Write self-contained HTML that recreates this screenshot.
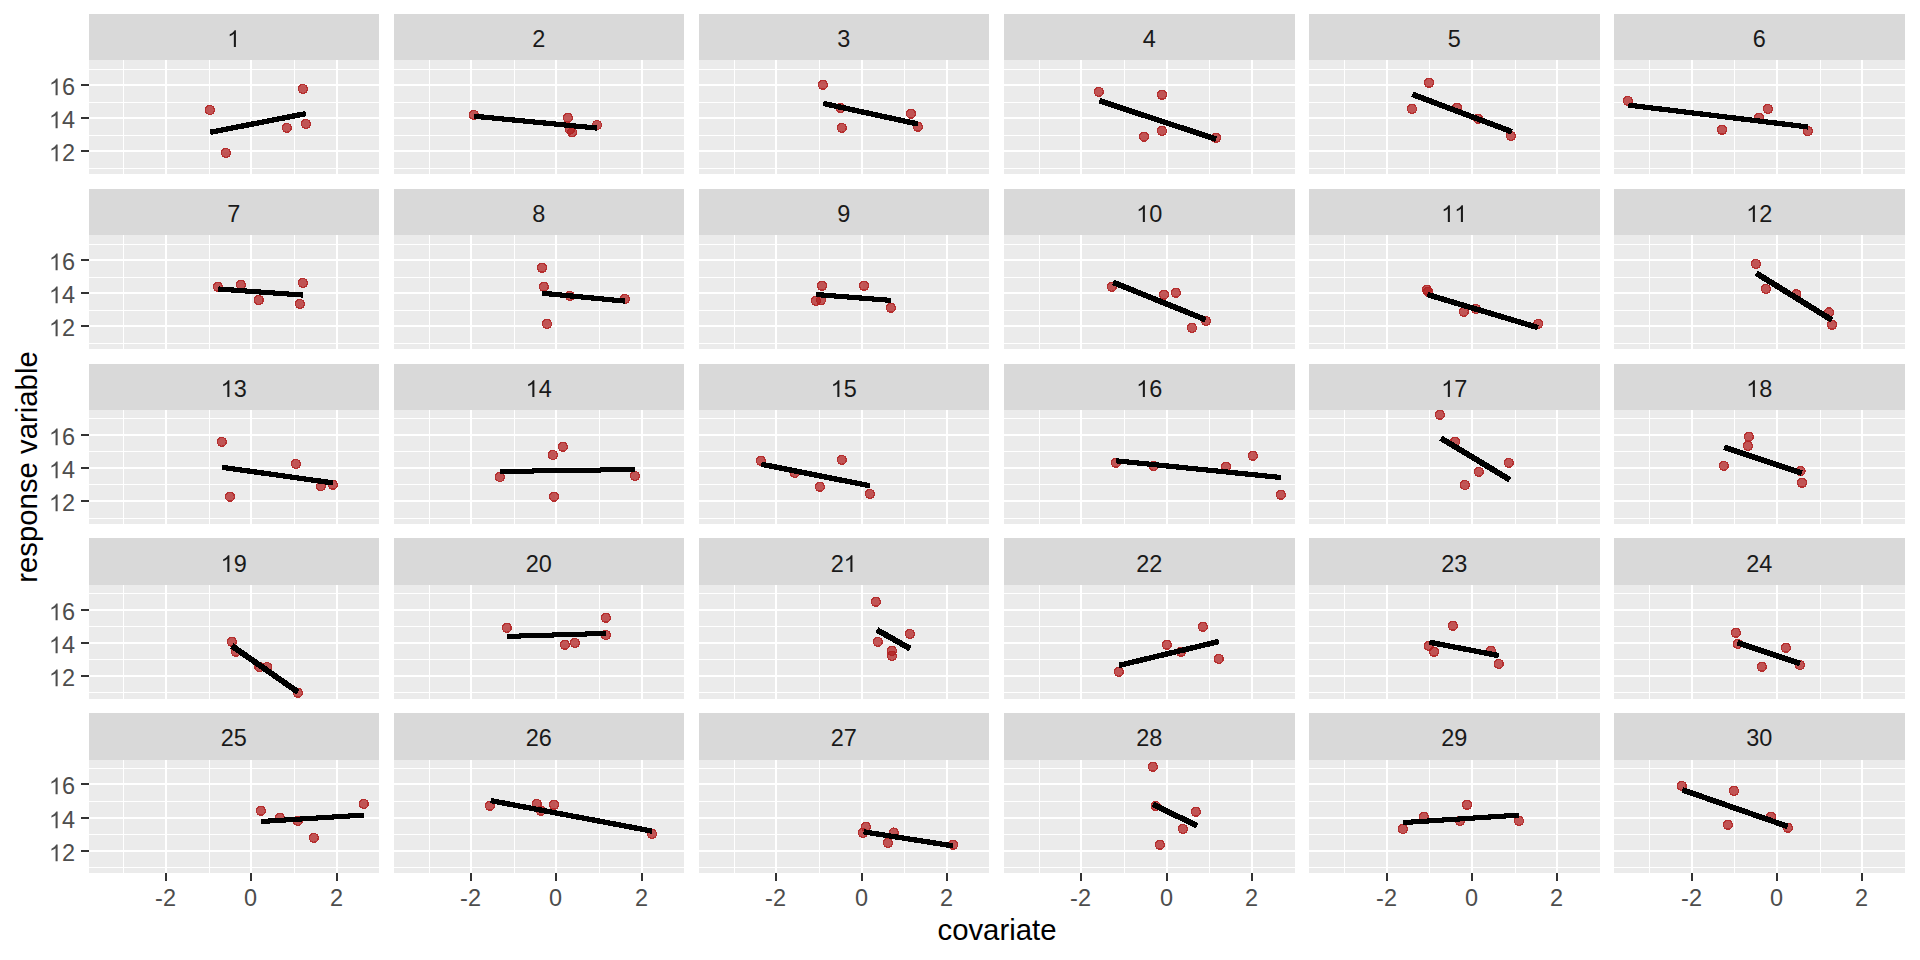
<!DOCTYPE html>
<html><head><meta charset="utf-8"><title>plot</title>
<style>
html,body{margin:0;padding:0;background:#fff;}
body{width:1920px;height:960px;overflow:hidden;font-family:"Liberation Sans",sans-serif;}
svg{display:block;font-family:"Liberation Sans",sans-serif;}
.ax{font-size:23.47px;fill:#4d4d4d;}
.st{font-size:23.47px;fill:#1a1a1a;}
.ti{font-size:29.33px;fill:#000;text-anchor:middle;}
.g{shape-rendering:crispEdges;}
.pf{fill:#b22222;fill-opacity:.75;shape-rendering:crispEdges;}
.ps{fill:none;stroke:#b22222;stroke-opacity:.75;stroke-width:1.4;shape-rendering:crispEdges;}
.ln{fill:none;stroke:#000;stroke-linecap:butt;shape-rendering:crispEdges;}
</style></head><body>
<svg width="1920" height="960" viewBox="0 0 1920 960">
<rect width="1920" height="960" fill="#fff"/>
<g class="g"><rect x="89" y="14" width="290" height="46" fill="#d9d9d9"/><rect x="89" y="60" width="290" height="114" fill="#ebebeb"/><path d="M89 168.5H379M89 135.5H379M89 102.5H379M89 69.5H379M123.5 60V174M209.5 60V174M294.5 60V174" stroke="#fff" stroke-width="1" fill="none"/><path d="M89 151H379M89 118H379M89 85H379M166 60V174M251 60V174M337 60V174" stroke="#fff" stroke-width="2" fill="none"/><path d="M81 151H89M81 118H89M81 85H89" stroke="#333" stroke-width="2" fill="none"/></g>
<path class="st" transform="translate(227.17 47.0) scale(0.01146 -0.01146)" d="M763 0H583V1147Q518 1085 412.5 1023T223 930V1104Q374 1175 487 1276T647 1472H763Z"/>
<path class="ax" transform="translate(48.89 161.3) scale(0.01146 -0.01146)" d="M763 0H583V1147Q518 1085 412.5 1023T223 930V1104Q374 1175 487 1276T647 1472H763Z"/><text class="ax" text-anchor="start" x="61.95" y="161.3">2</text><path class="ax" transform="translate(48.89 128.3) scale(0.01146 -0.01146)" d="M763 0H583V1147Q518 1085 412.5 1023T223 930V1104Q374 1175 487 1276T647 1472H763Z"/><text class="ax" text-anchor="start" x="61.95" y="128.3">4</text><path class="ax" transform="translate(48.89 95.3) scale(0.01146 -0.01146)" d="M763 0H583V1147Q518 1085 412.5 1023T223 930V1104Q374 1175 487 1276T647 1472H763Z"/><text class="ax" text-anchor="start" x="61.95" y="95.3">6</text>
<g class="pf"><circle cx="209.9" cy="110.0" r="5.15"/><circle cx="302.9" cy="88.9" r="5.15"/><circle cx="286.8" cy="127.8" r="5.15"/><circle cx="305.9" cy="123.9" r="5.15"/><circle cx="225.9" cy="152.9" r="5.15"/></g><g class="ps"><circle cx="209.9" cy="110.0" r="4.45"/><circle cx="302.9" cy="88.9" r="4.45"/><circle cx="286.8" cy="127.8" r="4.45"/><circle cx="305.9" cy="123.9" r="4.45"/><circle cx="225.9" cy="152.9" r="4.45"/></g><path class="ln" stroke-width="5.38" d="M210.2 132.3L305.9 113.6"/>
<g class="g"><rect x="394" y="14" width="290" height="46" fill="#d9d9d9"/><rect x="394" y="60" width="290" height="114" fill="#ebebeb"/><path d="M394 168.5H684M394 135.5H684M394 102.5H684M394 69.5H684M429.5 60V174M514.5 60V174M599.5 60V174" stroke="#fff" stroke-width="1" fill="none"/><path d="M394 151H684M394 118H684M394 85H684M471 60V174M556 60V174M642 60V174" stroke="#fff" stroke-width="2" fill="none"/></g>
<text class="st" text-anchor="middle" x="538.7" y="47.0">2</text>
<g class="pf"><circle cx="473.7" cy="114.8" r="5.15"/><circle cx="567.9" cy="117.8" r="5.15"/><circle cx="569.8" cy="129.5" r="5.15"/><circle cx="572.1" cy="132.2" r="5.15"/><circle cx="597.0" cy="125.0" r="5.15"/></g><g class="ps"><circle cx="473.7" cy="114.8" r="4.45"/><circle cx="567.9" cy="117.8" r="4.45"/><circle cx="569.8" cy="129.5" r="4.45"/><circle cx="572.1" cy="132.2" r="4.45"/><circle cx="597.0" cy="125.0" r="4.45"/></g><path class="ln" stroke-width="5.19" d="M474.2 116.2L597.0 128.1"/>
<g class="g"><rect x="699" y="14" width="290" height="46" fill="#d9d9d9"/><rect x="699" y="60" width="290" height="114" fill="#ebebeb"/><path d="M699 168.5H989M699 135.5H989M699 102.5H989M699 69.5H989M734.5 60V174M819.5 60V174M904.5 60V174" stroke="#fff" stroke-width="1" fill="none"/><path d="M699 151H989M699 118H989M699 85H989M776 60V174M862 60V174M947 60V174" stroke="#fff" stroke-width="2" fill="none"/></g>
<text class="st" text-anchor="middle" x="843.7" y="47.0">3</text>
<g class="pf"><circle cx="822.9" cy="84.8" r="5.15"/><circle cx="840.6" cy="107.9" r="5.15"/><circle cx="841.8" cy="127.8" r="5.15"/><circle cx="910.9" cy="113.7" r="5.15"/><circle cx="917.9" cy="126.8" r="5.15"/></g><g class="ps"><circle cx="822.9" cy="84.8" r="4.45"/><circle cx="840.6" cy="107.9" r="4.45"/><circle cx="841.8" cy="127.8" r="4.45"/><circle cx="910.9" cy="113.7" r="4.45"/><circle cx="917.9" cy="126.8" r="4.45"/></g><path class="ln" stroke-width="5.42" d="M823.2 103.4L917.9 124.0"/>
<g class="g"><rect x="1004" y="14" width="291" height="46" fill="#d9d9d9"/><rect x="1004" y="60" width="291" height="114" fill="#ebebeb"/><path d="M1004 168.5H1295M1004 135.5H1295M1004 102.5H1295M1004 69.5H1295M1039.5 60V174M1124.5 60V174M1209.5 60V174" stroke="#fff" stroke-width="1" fill="none"/><path d="M1004 151H1295M1004 118H1295M1004 85H1295M1081 60V174M1167 60V174M1252 60V174" stroke="#fff" stroke-width="2" fill="none"/></g>
<text class="st" text-anchor="middle" x="1149.2" y="47.0">4</text>
<g class="pf"><circle cx="1098.8" cy="91.8" r="5.15"/><circle cx="1162.0" cy="94.8" r="5.15"/><circle cx="1162.0" cy="130.9" r="5.15"/><circle cx="1144.0" cy="136.7" r="5.15"/><circle cx="1216.0" cy="137.8" r="5.15"/></g><g class="ps"><circle cx="1098.8" cy="91.8" r="4.45"/><circle cx="1162.0" cy="94.8" r="4.45"/><circle cx="1162.0" cy="130.9" r="4.45"/><circle cx="1144.0" cy="136.7" r="4.45"/><circle cx="1216.0" cy="137.8" r="4.45"/></g><path class="ln" stroke-width="5.60" d="M1099.3 100.6L1216.0 139.2"/>
<g class="g"><rect x="1309" y="14" width="291" height="46" fill="#d9d9d9"/><rect x="1309" y="60" width="291" height="114" fill="#ebebeb"/><path d="M1309 168.5H1600M1309 135.5H1600M1309 102.5H1600M1309 69.5H1600M1344.5 60V174M1429.5 60V174M1515.5 60V174" stroke="#fff" stroke-width="1" fill="none"/><path d="M1309 151H1600M1309 118H1600M1309 85H1600M1387 60V174M1472 60V174M1557 60V174" stroke="#fff" stroke-width="2" fill="none"/></g>
<text class="st" text-anchor="middle" x="1454.2" y="47.0">5</text>
<g class="pf"><circle cx="1429.0" cy="82.8" r="5.15"/><circle cx="1412.0" cy="108.9" r="5.15"/><circle cx="1457.1" cy="107.6" r="5.15"/><circle cx="1478.1" cy="118.7" r="5.15"/><circle cx="1510.9" cy="135.9" r="5.15"/></g><g class="ps"><circle cx="1429.0" cy="82.8" r="4.45"/><circle cx="1412.0" cy="108.9" r="4.45"/><circle cx="1457.1" cy="107.6" r="4.45"/><circle cx="1478.1" cy="118.7" r="4.45"/><circle cx="1510.9" cy="135.9" r="4.45"/></g><path class="ln" stroke-width="5.66" d="M1412.3 94.3L1512.0 131.8"/>
<g class="g"><rect x="1614" y="14" width="291" height="46" fill="#d9d9d9"/><rect x="1614" y="60" width="291" height="114" fill="#ebebeb"/><path d="M1614 168.5H1905M1614 135.5H1905M1614 102.5H1905M1614 69.5H1905M1649.5 60V174M1734.5 60V174M1820.5 60V174" stroke="#fff" stroke-width="1" fill="none"/><path d="M1614 151H1905M1614 118H1905M1614 85H1905M1692 60V174M1777 60V174M1862 60V174" stroke="#fff" stroke-width="2" fill="none"/></g>
<text class="st" text-anchor="middle" x="1759.2" y="47.0">6</text>
<g class="pf"><circle cx="1627.9" cy="100.9" r="5.15"/><circle cx="1767.9" cy="108.9" r="5.15"/><circle cx="1759.0" cy="117.6" r="5.15"/><circle cx="1722.0" cy="129.8" r="5.15"/><circle cx="1807.9" cy="131.1" r="5.15"/></g><g class="ps"><circle cx="1627.9" cy="100.9" r="4.45"/><circle cx="1767.9" cy="108.9" r="4.45"/><circle cx="1759.0" cy="117.6" r="4.45"/><circle cx="1722.0" cy="129.8" r="4.45"/><circle cx="1807.9" cy="131.1" r="4.45"/></g><path class="ln" stroke-width="5.24" d="M1628.4 105.1L1808.1 127.0"/>
<g class="g"><rect x="89" y="189" width="290" height="46" fill="#d9d9d9"/><rect x="89" y="235" width="290" height="114" fill="#ebebeb"/><path d="M89 343.5H379M89 310.5H379M89 277.5H379M89 244.5H379M123.5 235V349M209.5 235V349M294.5 235V349" stroke="#fff" stroke-width="1" fill="none"/><path d="M89 326H379M89 293H379M89 260H379M166 235V349M251 235V349M337 235V349" stroke="#fff" stroke-width="2" fill="none"/><path d="M81 326H89M81 293H89M81 260H89" stroke="#333" stroke-width="2" fill="none"/></g>
<text class="st" text-anchor="middle" x="233.7" y="222.0">7</text>
<path class="ax" transform="translate(48.89 336.3) scale(0.01146 -0.01146)" d="M763 0H583V1147Q518 1085 412.5 1023T223 930V1104Q374 1175 487 1276T647 1472H763Z"/><text class="ax" text-anchor="start" x="61.95" y="336.3">2</text><path class="ax" transform="translate(48.89 303.3) scale(0.01146 -0.01146)" d="M763 0H583V1147Q518 1085 412.5 1023T223 930V1104Q374 1175 487 1276T647 1472H763Z"/><text class="ax" text-anchor="start" x="61.95" y="303.3">4</text><path class="ax" transform="translate(48.89 270.3) scale(0.01146 -0.01146)" d="M763 0H583V1147Q518 1085 412.5 1023T223 930V1104Q374 1175 487 1276T647 1472H763Z"/><text class="ax" text-anchor="start" x="61.95" y="270.3">6</text>
<g class="pf"><circle cx="217.9" cy="286.8" r="5.15"/><circle cx="240.9" cy="284.8" r="5.15"/><circle cx="302.9" cy="282.9" r="5.15"/><circle cx="258.8" cy="300.0" r="5.15"/><circle cx="299.9" cy="303.9" r="5.15"/></g><g class="ps"><circle cx="217.9" cy="286.8" r="4.45"/><circle cx="240.9" cy="284.8" r="4.45"/><circle cx="302.9" cy="282.9" r="4.45"/><circle cx="258.8" cy="300.0" r="4.45"/><circle cx="299.9" cy="303.9" r="4.45"/></g><path class="ln" stroke-width="5.14" d="M218.4 289.0L302.9 295.1"/>
<g class="g"><rect x="394" y="189" width="290" height="46" fill="#d9d9d9"/><rect x="394" y="235" width="290" height="114" fill="#ebebeb"/><path d="M394 343.5H684M394 310.5H684M394 277.5H684M394 244.5H684M429.5 235V349M514.5 235V349M599.5 235V349" stroke="#fff" stroke-width="1" fill="none"/><path d="M394 326H684M394 293H684M394 260H684M471 235V349M556 235V349M642 235V349" stroke="#fff" stroke-width="2" fill="none"/></g>
<text class="st" text-anchor="middle" x="538.7" y="222.0">8</text>
<g class="pf"><circle cx="542.0" cy="267.8" r="5.15"/><circle cx="543.8" cy="286.7" r="5.15"/><circle cx="569.9" cy="295.9" r="5.15"/><circle cx="624.9" cy="298.9" r="5.15"/><circle cx="547.0" cy="323.9" r="5.15"/></g><g class="ps"><circle cx="542.0" cy="267.8" r="4.45"/><circle cx="543.8" cy="286.7" r="4.45"/><circle cx="569.9" cy="295.9" r="4.45"/><circle cx="624.9" cy="298.9" r="4.45"/><circle cx="547.0" cy="323.9" r="4.45"/></g><path class="ln" stroke-width="5.19" d="M542.0 293.2L624.9 301.1"/>
<g class="g"><rect x="699" y="189" width="290" height="46" fill="#d9d9d9"/><rect x="699" y="235" width="290" height="114" fill="#ebebeb"/><path d="M699 343.5H989M699 310.5H989M699 277.5H989M699 244.5H989M734.5 235V349M819.5 235V349M904.5 235V349" stroke="#fff" stroke-width="1" fill="none"/><path d="M699 326H989M699 293H989M699 260H989M776 235V349M862 235V349M947 235V349" stroke="#fff" stroke-width="2" fill="none"/></g>
<text class="st" text-anchor="middle" x="843.7" y="222.0">9</text>
<g class="pf"><circle cx="822.0" cy="285.8" r="5.15"/><circle cx="864.0" cy="285.8" r="5.15"/><circle cx="815.9" cy="300.9" r="5.15"/><circle cx="821.0" cy="300.1" r="5.15"/><circle cx="890.9" cy="307.8" r="5.15"/></g><g class="ps"><circle cx="822.0" cy="285.8" r="4.45"/><circle cx="864.0" cy="285.8" r="4.45"/><circle cx="815.9" cy="300.9" r="4.45"/><circle cx="821.0" cy="300.1" r="4.45"/><circle cx="890.9" cy="307.8" r="4.45"/></g><path class="ln" stroke-width="5.16" d="M816.0 294.5L890.9 300.4"/>
<g class="g"><rect x="1004" y="189" width="291" height="46" fill="#d9d9d9"/><rect x="1004" y="235" width="291" height="114" fill="#ebebeb"/><path d="M1004 343.5H1295M1004 310.5H1295M1004 277.5H1295M1004 244.5H1295M1039.5 235V349M1124.5 235V349M1209.5 235V349" stroke="#fff" stroke-width="1" fill="none"/><path d="M1004 326H1295M1004 293H1295M1004 260H1295M1081 235V349M1167 235V349M1252 235V349" stroke="#fff" stroke-width="2" fill="none"/></g>
<path class="st" transform="translate(1136.15 222.0) scale(0.01146 -0.01146)" d="M763 0H583V1147Q518 1085 412.5 1023T223 930V1104Q374 1175 487 1276T647 1472H763Z"/><text class="st" text-anchor="start" x="1149.20" y="222.0">0</text>
<g class="pf"><circle cx="1111.8" cy="286.8" r="5.15"/><circle cx="1164.0" cy="294.7" r="5.15"/><circle cx="1175.9" cy="292.8" r="5.15"/><circle cx="1192.0" cy="327.9" r="5.15"/><circle cx="1205.9" cy="320.9" r="5.15"/></g><g class="ps"><circle cx="1111.8" cy="286.8" r="4.45"/><circle cx="1164.0" cy="294.7" r="4.45"/><circle cx="1175.9" cy="292.8" r="4.45"/><circle cx="1192.0" cy="327.9" r="4.45"/><circle cx="1205.9" cy="320.9" r="4.45"/></g><path class="ln" stroke-width="5.70" d="M1113.1 282.3L1205.6 319.7"/>
<g class="g"><rect x="1309" y="189" width="291" height="46" fill="#d9d9d9"/><rect x="1309" y="235" width="291" height="114" fill="#ebebeb"/><path d="M1309 343.5H1600M1309 310.5H1600M1309 277.5H1600M1309 244.5H1600M1344.5 235V349M1429.5 235V349M1515.5 235V349" stroke="#fff" stroke-width="1" fill="none"/><path d="M1309 326H1600M1309 293H1600M1309 260H1600M1387 235V349M1472 235V349M1557 235V349" stroke="#fff" stroke-width="2" fill="none"/></g>
<path class="st" transform="translate(1441.15 222.0) scale(0.01146 -0.01146)" d="M763 0H583V1147Q518 1085 412.5 1023T223 930V1104Q374 1175 487 1276T647 1472H763Z"/><path class="st" transform="translate(1454.20 222.0) scale(0.01146 -0.01146)" d="M763 0H583V1147Q518 1085 412.5 1023T223 930V1104Q374 1175 487 1276T647 1472H763Z"/>
<g class="pf"><circle cx="1426.8" cy="289.7" r="5.15"/><circle cx="1428.1" cy="291.7" r="5.15"/><circle cx="1463.8" cy="311.8" r="5.15"/><circle cx="1475.9" cy="308.9" r="5.15"/><circle cx="1538.1" cy="323.9" r="5.15"/></g><g class="ps"><circle cx="1426.8" cy="289.7" r="4.45"/><circle cx="1428.1" cy="291.7" r="4.45"/><circle cx="1463.8" cy="311.8" r="4.45"/><circle cx="1475.9" cy="308.9" r="4.45"/><circle cx="1538.1" cy="323.9" r="4.45"/></g><path class="ln" stroke-width="5.55" d="M1427.4 294.5L1537.9 327.6"/>
<g class="g"><rect x="1614" y="189" width="291" height="46" fill="#d9d9d9"/><rect x="1614" y="235" width="291" height="114" fill="#ebebeb"/><path d="M1614 343.5H1905M1614 310.5H1905M1614 277.5H1905M1614 244.5H1905M1649.5 235V349M1734.5 235V349M1820.5 235V349" stroke="#fff" stroke-width="1" fill="none"/><path d="M1614 326H1905M1614 293H1905M1614 260H1905M1692 235V349M1777 235V349M1862 235V349" stroke="#fff" stroke-width="2" fill="none"/></g>
<path class="st" transform="translate(1746.15 222.0) scale(0.01146 -0.01146)" d="M763 0H583V1147Q518 1085 412.5 1023T223 930V1104Q374 1175 487 1276T647 1472H763Z"/><text class="st" text-anchor="start" x="1759.20" y="222.0">2</text>
<g class="pf"><circle cx="1755.9" cy="263.9" r="5.15"/><circle cx="1765.9" cy="288.9" r="5.15"/><circle cx="1796.3" cy="294.2" r="5.15"/><circle cx="1829.0" cy="312.3" r="5.15"/><circle cx="1832.0" cy="324.8" r="5.15"/></g><g class="ps"><circle cx="1755.9" cy="263.9" r="4.45"/><circle cx="1765.9" cy="288.9" r="4.45"/><circle cx="1796.3" cy="294.2" r="4.45"/><circle cx="1829.0" cy="312.3" r="4.45"/><circle cx="1832.0" cy="324.8" r="4.45"/></g><path class="ln" stroke-width="5.90" d="M1756.3 273.2L1832.0 320.1"/>
<g class="g"><rect x="89" y="364" width="290" height="46" fill="#d9d9d9"/><rect x="89" y="410" width="290" height="114" fill="#ebebeb"/><path d="M89 518.5H379M89 484.5H379M89 451.5H379M89 418.5H379M123.5 410V524M209.5 410V524M294.5 410V524" stroke="#fff" stroke-width="1" fill="none"/><path d="M89 501H379M89 468H379M89 435H379M166 410V524M251 410V524M337 410V524" stroke="#fff" stroke-width="2" fill="none"/><path d="M81 501H89M81 468H89M81 435H89" stroke="#333" stroke-width="2" fill="none"/></g>
<path class="st" transform="translate(220.65 397.0) scale(0.01146 -0.01146)" d="M763 0H583V1147Q518 1085 412.5 1023T223 930V1104Q374 1175 487 1276T647 1472H763Z"/><text class="st" text-anchor="start" x="233.70" y="397.0">3</text>
<path class="ax" transform="translate(48.89 511.3) scale(0.01146 -0.01146)" d="M763 0H583V1147Q518 1085 412.5 1023T223 930V1104Q374 1175 487 1276T647 1472H763Z"/><text class="ax" text-anchor="start" x="61.95" y="511.3">2</text><path class="ax" transform="translate(48.89 478.3) scale(0.01146 -0.01146)" d="M763 0H583V1147Q518 1085 412.5 1023T223 930V1104Q374 1175 487 1276T647 1472H763Z"/><text class="ax" text-anchor="start" x="61.95" y="478.3">4</text><path class="ax" transform="translate(48.89 445.3) scale(0.01146 -0.01146)" d="M763 0H583V1147Q518 1085 412.5 1023T223 930V1104Q374 1175 487 1276T647 1472H763Z"/><text class="ax" text-anchor="start" x="61.95" y="445.3">6</text>
<g class="pf"><circle cx="221.8" cy="441.8" r="5.15"/><circle cx="295.9" cy="463.9" r="5.15"/><circle cx="229.9" cy="496.7" r="5.15"/><circle cx="320.9" cy="486.1" r="5.15"/><circle cx="332.9" cy="484.8" r="5.15"/></g><g class="ps"><circle cx="221.8" cy="441.8" r="4.45"/><circle cx="295.9" cy="463.9" r="4.45"/><circle cx="229.9" cy="496.7" r="4.45"/><circle cx="320.9" cy="486.1" r="4.45"/><circle cx="332.9" cy="484.8" r="4.45"/></g><path class="ln" stroke-width="5.28" d="M222.1 467.3L332.8 482.9"/>
<g class="g"><rect x="394" y="364" width="290" height="46" fill="#d9d9d9"/><rect x="394" y="410" width="290" height="114" fill="#ebebeb"/><path d="M394 518.5H684M394 484.5H684M394 451.5H684M394 418.5H684M429.5 410V524M514.5 410V524M599.5 410V524" stroke="#fff" stroke-width="1" fill="none"/><path d="M394 501H684M394 468H684M394 435H684M471 410V524M556 410V524M642 410V524" stroke="#fff" stroke-width="2" fill="none"/></g>
<path class="st" transform="translate(525.65 397.0) scale(0.01146 -0.01146)" d="M763 0H583V1147Q518 1085 412.5 1023T223 930V1104Q374 1175 487 1276T647 1472H763Z"/><text class="st" text-anchor="start" x="538.70" y="397.0">4</text>
<g class="pf"><circle cx="562.9" cy="446.8" r="5.15"/><circle cx="552.9" cy="455.0" r="5.15"/><circle cx="499.9" cy="477.0" r="5.15"/><circle cx="634.9" cy="475.9" r="5.15"/><circle cx="554.0" cy="496.7" r="5.15"/></g><g class="ps"><circle cx="562.9" cy="446.8" r="4.45"/><circle cx="552.9" cy="455.0" r="4.45"/><circle cx="499.9" cy="477.0" r="4.45"/><circle cx="634.9" cy="475.9" r="4.45"/><circle cx="554.0" cy="496.7" r="4.45"/></g><path class="ln" stroke-width="5.03" d="M500.1 471.5L634.9 469.5"/>
<g class="g"><rect x="699" y="364" width="290" height="46" fill="#d9d9d9"/><rect x="699" y="410" width="290" height="114" fill="#ebebeb"/><path d="M699 518.5H989M699 484.5H989M699 451.5H989M699 418.5H989M734.5 410V524M819.5 410V524M904.5 410V524" stroke="#fff" stroke-width="1" fill="none"/><path d="M699 501H989M699 468H989M699 435H989M776 410V524M862 410V524M947 410V524" stroke="#fff" stroke-width="2" fill="none"/></g>
<path class="st" transform="translate(830.65 397.0) scale(0.01146 -0.01146)" d="M763 0H583V1147Q518 1085 412.5 1023T223 930V1104Q374 1175 487 1276T647 1472H763Z"/><text class="st" text-anchor="start" x="843.70" y="397.0">5</text>
<g class="pf"><circle cx="760.9" cy="460.8" r="5.15"/><circle cx="841.8" cy="459.8" r="5.15"/><circle cx="794.8" cy="472.9" r="5.15"/><circle cx="819.9" cy="486.8" r="5.15"/><circle cx="869.9" cy="493.9" r="5.15"/></g><g class="ps"><circle cx="760.9" cy="460.8" r="4.45"/><circle cx="841.8" cy="459.8" r="4.45"/><circle cx="794.8" cy="472.9" r="4.45"/><circle cx="819.9" cy="486.8" r="4.45"/><circle cx="869.9" cy="493.9" r="4.45"/></g><path class="ln" stroke-width="5.38" d="M761.2 464.2L869.9 485.8"/>
<g class="g"><rect x="1004" y="364" width="291" height="46" fill="#d9d9d9"/><rect x="1004" y="410" width="291" height="114" fill="#ebebeb"/><path d="M1004 518.5H1295M1004 484.5H1295M1004 451.5H1295M1004 418.5H1295M1039.5 410V524M1124.5 410V524M1209.5 410V524" stroke="#fff" stroke-width="1" fill="none"/><path d="M1004 501H1295M1004 468H1295M1004 435H1295M1081 410V524M1167 410V524M1252 410V524" stroke="#fff" stroke-width="2" fill="none"/></g>
<path class="st" transform="translate(1136.15 397.0) scale(0.01146 -0.01146)" d="M763 0H583V1147Q518 1085 412.5 1023T223 930V1104Q374 1175 487 1276T647 1472H763Z"/><text class="st" text-anchor="start" x="1149.20" y="397.0">6</text>
<g class="pf"><circle cx="1115.9" cy="462.8" r="5.15"/><circle cx="1153.7" cy="465.9" r="5.15"/><circle cx="1226.0" cy="466.8" r="5.15"/><circle cx="1252.9" cy="455.8" r="5.15"/><circle cx="1280.9" cy="494.8" r="5.15"/></g><g class="ps"><circle cx="1115.9" cy="462.8" r="4.45"/><circle cx="1153.7" cy="465.9" r="4.45"/><circle cx="1226.0" cy="466.8" r="4.45"/><circle cx="1252.9" cy="455.8" r="4.45"/><circle cx="1280.9" cy="494.8" r="4.45"/></g><path class="ln" stroke-width="5.20" d="M1116.2 460.8L1280.9 477.5"/>
<g class="g"><rect x="1309" y="364" width="291" height="46" fill="#d9d9d9"/><rect x="1309" y="410" width="291" height="114" fill="#ebebeb"/><path d="M1309 518.5H1600M1309 484.5H1600M1309 451.5H1600M1309 418.5H1600M1344.5 410V524M1429.5 410V524M1515.5 410V524" stroke="#fff" stroke-width="1" fill="none"/><path d="M1309 501H1600M1309 468H1600M1309 435H1600M1387 410V524M1472 410V524M1557 410V524" stroke="#fff" stroke-width="2" fill="none"/></g>
<path class="st" transform="translate(1441.15 397.0) scale(0.01146 -0.01146)" d="M763 0H583V1147Q518 1085 412.5 1023T223 930V1104Q374 1175 487 1276T647 1472H763Z"/><text class="st" text-anchor="start" x="1454.20" y="397.0">7</text>
<g class="pf"><circle cx="1439.9" cy="414.8" r="5.15"/><circle cx="1455.1" cy="441.7" r="5.15"/><circle cx="1508.8" cy="462.8" r="5.15"/><circle cx="1478.8" cy="471.8" r="5.15"/><circle cx="1464.9" cy="485.0" r="5.15"/></g><g class="ps"><circle cx="1439.9" cy="414.8" r="4.45"/><circle cx="1455.1" cy="441.7" r="4.45"/><circle cx="1508.8" cy="462.8" r="4.45"/><circle cx="1478.8" cy="471.8" r="4.45"/><circle cx="1464.9" cy="485.0" r="4.45"/></g><path class="ln" stroke-width="5.88" d="M1440.9 438.2L1509.9 479.8"/>
<g class="g"><rect x="1614" y="364" width="291" height="46" fill="#d9d9d9"/><rect x="1614" y="410" width="291" height="114" fill="#ebebeb"/><path d="M1614 518.5H1905M1614 484.5H1905M1614 451.5H1905M1614 418.5H1905M1649.5 410V524M1734.5 410V524M1820.5 410V524" stroke="#fff" stroke-width="1" fill="none"/><path d="M1614 501H1905M1614 468H1905M1614 435H1905M1692 410V524M1777 410V524M1862 410V524" stroke="#fff" stroke-width="2" fill="none"/></g>
<path class="st" transform="translate(1746.15 397.0) scale(0.01146 -0.01146)" d="M763 0H583V1147Q518 1085 412.5 1023T223 930V1104Q374 1175 487 1276T647 1472H763Z"/><text class="st" text-anchor="start" x="1759.20" y="397.0">8</text>
<g class="pf"><circle cx="1748.8" cy="436.7" r="5.15"/><circle cx="1747.9" cy="445.9" r="5.15"/><circle cx="1723.8" cy="465.8" r="5.15"/><circle cx="1800.6" cy="470.9" r="5.15"/><circle cx="1802.0" cy="482.8" r="5.15"/></g><g class="ps"><circle cx="1748.8" cy="436.7" r="4.45"/><circle cx="1747.9" cy="445.9" r="4.45"/><circle cx="1723.8" cy="465.8" r="4.45"/><circle cx="1800.6" cy="470.9" r="4.45"/><circle cx="1802.0" cy="482.8" r="4.45"/></g><path class="ln" stroke-width="5.60" d="M1724.2 447.3L1801.8 473.2"/>
<g class="g"><rect x="89" y="538" width="290" height="47" fill="#d9d9d9"/><rect x="89" y="585" width="290" height="114" fill="#ebebeb"/><path d="M89 692.5H379M89 659.5H379M89 626.5H379M89 593.5H379M123.5 585V699M209.5 585V699M294.5 585V699" stroke="#fff" stroke-width="1" fill="none"/><path d="M89 676H379M89 643H379M89 610H379M166 585V699M251 585V699M337 585V699" stroke="#fff" stroke-width="2" fill="none"/><path d="M81 676H89M81 643H89M81 610H89" stroke="#333" stroke-width="2" fill="none"/></g>
<path class="st" transform="translate(220.65 572.0) scale(0.01146 -0.01146)" d="M763 0H583V1147Q518 1085 412.5 1023T223 930V1104Q374 1175 487 1276T647 1472H763Z"/><text class="st" text-anchor="start" x="233.70" y="572.0">9</text>
<path class="ax" transform="translate(48.89 686.3) scale(0.01146 -0.01146)" d="M763 0H583V1147Q518 1085 412.5 1023T223 930V1104Q374 1175 487 1276T647 1472H763Z"/><text class="ax" text-anchor="start" x="61.95" y="686.3">2</text><path class="ax" transform="translate(48.89 653.3) scale(0.01146 -0.01146)" d="M763 0H583V1147Q518 1085 412.5 1023T223 930V1104Q374 1175 487 1276T647 1472H763Z"/><text class="ax" text-anchor="start" x="61.95" y="653.3">4</text><path class="ax" transform="translate(48.89 620.3) scale(0.01146 -0.01146)" d="M763 0H583V1147Q518 1085 412.5 1023T223 930V1104Q374 1175 487 1276T647 1472H763Z"/><text class="ax" text-anchor="start" x="61.95" y="620.3">6</text>
<g class="pf"><circle cx="231.8" cy="641.7" r="5.15"/><circle cx="235.9" cy="651.8" r="5.15"/><circle cx="259.3" cy="667.0" r="5.15"/><circle cx="267.1" cy="667.0" r="5.15"/><circle cx="297.9" cy="692.8" r="5.15"/></g><g class="ps"><circle cx="231.8" cy="641.7" r="4.45"/><circle cx="235.9" cy="651.8" r="4.45"/><circle cx="259.3" cy="667.0" r="4.45"/><circle cx="267.1" cy="667.0" r="4.45"/><circle cx="297.9" cy="692.8" r="4.45"/></g><path class="ln" stroke-width="5.94" d="M231.8 645.8L297.9 692.0"/>
<g class="g"><rect x="394" y="538" width="290" height="47" fill="#d9d9d9"/><rect x="394" y="585" width="290" height="114" fill="#ebebeb"/><path d="M394 692.5H684M394 659.5H684M394 626.5H684M394 593.5H684M429.5 585V699M514.5 585V699M599.5 585V699" stroke="#fff" stroke-width="1" fill="none"/><path d="M394 676H684M394 643H684M394 610H684M471 585V699M556 585V699M642 585V699" stroke="#fff" stroke-width="2" fill="none"/></g>
<text class="st" text-anchor="middle" x="538.7" y="572.0">20</text>
<g class="pf"><circle cx="506.8" cy="627.8" r="5.15"/><circle cx="605.9" cy="617.8" r="5.15"/><circle cx="605.9" cy="635.0" r="5.15"/><circle cx="564.9" cy="644.8" r="5.15"/><circle cx="574.9" cy="642.9" r="5.15"/></g><g class="ps"><circle cx="506.8" cy="627.8" r="4.45"/><circle cx="605.9" cy="617.8" r="4.45"/><circle cx="605.9" cy="635.0" r="4.45"/><circle cx="564.9" cy="644.8" r="4.45"/><circle cx="574.9" cy="642.9" r="4.45"/></g><path class="ln" stroke-width="5.06" d="M507.1 636.4L605.9 633.4"/>
<g class="g"><rect x="699" y="538" width="290" height="47" fill="#d9d9d9"/><rect x="699" y="585" width="290" height="114" fill="#ebebeb"/><path d="M699 692.5H989M699 659.5H989M699 626.5H989M699 593.5H989M734.5 585V699M819.5 585V699M904.5 585V699" stroke="#fff" stroke-width="1" fill="none"/><path d="M699 676H989M699 643H989M699 610H989M776 585V699M862 585V699M947 585V699" stroke="#fff" stroke-width="2" fill="none"/></g>
<text class="st" text-anchor="start" x="830.65" y="572.0">2</text><path class="st" transform="translate(843.70 572.0) scale(0.01146 -0.01146)" d="M763 0H583V1147Q518 1085 412.5 1023T223 930V1104Q374 1175 487 1276T647 1472H763Z"/>
<g class="pf"><circle cx="875.9" cy="601.8" r="5.15"/><circle cx="909.9" cy="633.9" r="5.15"/><circle cx="877.8" cy="641.8" r="5.15"/><circle cx="892.0" cy="650.9" r="5.15"/><circle cx="892.0" cy="655.9" r="5.15"/></g><g class="ps"><circle cx="875.9" cy="601.8" r="4.45"/><circle cx="909.9" cy="633.9" r="4.45"/><circle cx="877.8" cy="641.8" r="4.45"/><circle cx="892.0" cy="650.9" r="4.45"/><circle cx="892.0" cy="655.9" r="4.45"/></g><path class="ln" stroke-width="5.86" d="M876.8 629.8L910.2 648.7"/>
<g class="g"><rect x="1004" y="538" width="291" height="47" fill="#d9d9d9"/><rect x="1004" y="585" width="291" height="114" fill="#ebebeb"/><path d="M1004 692.5H1295M1004 659.5H1295M1004 626.5H1295M1004 593.5H1295M1039.5 585V699M1124.5 585V699M1209.5 585V699" stroke="#fff" stroke-width="1" fill="none"/><path d="M1004 676H1295M1004 643H1295M1004 610H1295M1081 585V699M1167 585V699M1252 585V699" stroke="#fff" stroke-width="2" fill="none"/></g>
<text class="st" text-anchor="middle" x="1149.2" y="572.0">22</text>
<g class="pf"><circle cx="1202.9" cy="626.8" r="5.15"/><circle cx="1166.8" cy="644.7" r="5.15"/><circle cx="1181.0" cy="651.8" r="5.15"/><circle cx="1218.8" cy="658.9" r="5.15"/><circle cx="1118.8" cy="671.8" r="5.15"/></g><g class="ps"><circle cx="1202.9" cy="626.8" r="4.45"/><circle cx="1166.8" cy="644.7" r="4.45"/><circle cx="1181.0" cy="651.8" r="4.45"/><circle cx="1218.8" cy="658.9" r="4.45"/><circle cx="1118.8" cy="671.8" r="4.45"/></g><path class="ln" stroke-width="5.45" d="M1119.0 665.4L1218.8 641.5"/>
<g class="g"><rect x="1309" y="538" width="291" height="47" fill="#d9d9d9"/><rect x="1309" y="585" width="291" height="114" fill="#ebebeb"/><path d="M1309 692.5H1600M1309 659.5H1600M1309 626.5H1600M1309 593.5H1600M1344.5 585V699M1429.5 585V699M1515.5 585V699" stroke="#fff" stroke-width="1" fill="none"/><path d="M1309 676H1600M1309 643H1600M1309 610H1600M1387 585V699M1472 585V699M1557 585V699" stroke="#fff" stroke-width="2" fill="none"/></g>
<text class="st" text-anchor="middle" x="1454.2" y="572.0">23</text>
<g class="pf"><circle cx="1452.9" cy="625.8" r="5.15"/><circle cx="1428.8" cy="645.9" r="5.15"/><circle cx="1434.0" cy="651.8" r="5.15"/><circle cx="1491.0" cy="650.9" r="5.15"/><circle cx="1498.8" cy="663.9" r="5.15"/></g><g class="ps"><circle cx="1452.9" cy="625.8" r="4.45"/><circle cx="1428.8" cy="645.9" r="4.45"/><circle cx="1434.0" cy="651.8" r="4.45"/><circle cx="1491.0" cy="650.9" r="4.45"/><circle cx="1498.8" cy="663.9" r="4.45"/></g><path class="ln" stroke-width="5.37" d="M1429.2 642.2L1498.8 655.6"/>
<g class="g"><rect x="1614" y="538" width="291" height="47" fill="#d9d9d9"/><rect x="1614" y="585" width="291" height="114" fill="#ebebeb"/><path d="M1614 692.5H1905M1614 659.5H1905M1614 626.5H1905M1614 593.5H1905M1649.5 585V699M1734.5 585V699M1820.5 585V699" stroke="#fff" stroke-width="1" fill="none"/><path d="M1614 676H1905M1614 643H1905M1614 610H1905M1692 585V699M1777 585V699M1862 585V699" stroke="#fff" stroke-width="2" fill="none"/></g>
<text class="st" text-anchor="middle" x="1759.2" y="572.0">24</text>
<g class="pf"><circle cx="1735.9" cy="632.8" r="5.15"/><circle cx="1737.8" cy="643.9" r="5.15"/><circle cx="1785.9" cy="647.8" r="5.15"/><circle cx="1761.8" cy="666.7" r="5.15"/><circle cx="1799.9" cy="665.0" r="5.15"/></g><g class="ps"><circle cx="1735.9" cy="632.8" r="4.45"/><circle cx="1737.8" cy="643.9" r="4.45"/><circle cx="1785.9" cy="647.8" r="4.45"/><circle cx="1761.8" cy="666.7" r="4.45"/><circle cx="1799.9" cy="665.0" r="4.45"/></g><path class="ln" stroke-width="5.60" d="M1737.4 642.6L1799.9 663.4"/>
<g class="g"><rect x="89" y="713" width="290" height="47" fill="#d9d9d9"/><rect x="89" y="760" width="290" height="113" fill="#ebebeb"/><path d="M89 867.5H379M89 834.5H379M89 801.5H379M89 768.5H379M123.5 760V873M209.5 760V873M294.5 760V873" stroke="#fff" stroke-width="1" fill="none"/><path d="M89 851H379M89 818H379M89 784H379M166 760V873M251 760V873M337 760V873" stroke="#fff" stroke-width="2" fill="none"/><path d="M81 851H89M81 818H89M81 784H89M166 873v8M251 873v8M337 873v8" stroke="#333" stroke-width="2" fill="none"/></g>
<text class="st" text-anchor="middle" x="233.7" y="746.0">25</text>
<path class="ax" transform="translate(48.89 861.3) scale(0.01146 -0.01146)" d="M763 0H583V1147Q518 1085 412.5 1023T223 930V1104Q374 1175 487 1276T647 1472H763Z"/><text class="ax" text-anchor="start" x="61.95" y="861.3">2</text><path class="ax" transform="translate(48.89 828.3) scale(0.01146 -0.01146)" d="M763 0H583V1147Q518 1085 412.5 1023T223 930V1104Q374 1175 487 1276T647 1472H763Z"/><text class="ax" text-anchor="start" x="61.95" y="828.3">4</text><path class="ax" transform="translate(48.89 794.3) scale(0.01146 -0.01146)" d="M763 0H583V1147Q518 1085 412.5 1023T223 930V1104Q374 1175 487 1276T647 1472H763Z"/><text class="ax" text-anchor="start" x="61.95" y="794.3">6</text>
<text class="ax" text-anchor="middle" x="165.5" y="906">-2</text><text class="ax" text-anchor="middle" x="250.5" y="906">0</text><text class="ax" text-anchor="middle" x="336.5" y="906">2</text>
<g class="pf"><circle cx="260.9" cy="810.8" r="5.15"/><circle cx="279.9" cy="817.8" r="5.15"/><circle cx="297.8" cy="820.9" r="5.15"/><circle cx="313.8" cy="837.8" r="5.15"/><circle cx="363.8" cy="803.9" r="5.15"/></g><g class="ps"><circle cx="260.9" cy="810.8" r="4.45"/><circle cx="279.9" cy="817.8" r="4.45"/><circle cx="297.8" cy="820.9" r="4.45"/><circle cx="313.8" cy="837.8" r="4.45"/><circle cx="363.8" cy="803.9" r="4.45"/></g><path class="ln" stroke-width="5.12" d="M261.0 821.5L363.8 815.1"/>
<g class="g"><rect x="394" y="713" width="290" height="47" fill="#d9d9d9"/><rect x="394" y="760" width="290" height="113" fill="#ebebeb"/><path d="M394 867.5H684M394 834.5H684M394 801.5H684M394 768.5H684M429.5 760V873M514.5 760V873M599.5 760V873" stroke="#fff" stroke-width="1" fill="none"/><path d="M394 851H684M394 818H684M394 784H684M471 760V873M556 760V873M642 760V873" stroke="#fff" stroke-width="2" fill="none"/><path d="M471 873v8M556 873v8M642 873v8" stroke="#333" stroke-width="2" fill="none"/></g>
<text class="st" text-anchor="middle" x="538.7" y="746.0">26</text>
<text class="ax" text-anchor="middle" x="470.5" y="906">-2</text><text class="ax" text-anchor="middle" x="555.5" y="906">0</text><text class="ax" text-anchor="middle" x="641.5" y="906">2</text>
<g class="pf"><circle cx="489.9" cy="805.8" r="5.15"/><circle cx="536.8" cy="803.9" r="5.15"/><circle cx="540.9" cy="810.8" r="5.15"/><circle cx="554.0" cy="804.8" r="5.15"/><circle cx="652.0" cy="833.9" r="5.15"/></g><g class="ps"><circle cx="489.9" cy="805.8" r="4.45"/><circle cx="536.8" cy="803.9" r="4.45"/><circle cx="540.9" cy="810.8" r="4.45"/><circle cx="554.0" cy="804.8" r="4.45"/><circle cx="652.0" cy="833.9" r="4.45"/></g><path class="ln" stroke-width="5.36" d="M490.6 800.6L652.0 831.1"/>
<g class="g"><rect x="699" y="713" width="290" height="47" fill="#d9d9d9"/><rect x="699" y="760" width="290" height="113" fill="#ebebeb"/><path d="M699 867.5H989M699 834.5H989M699 801.5H989M699 768.5H989M734.5 760V873M819.5 760V873M904.5 760V873" stroke="#fff" stroke-width="1" fill="none"/><path d="M699 851H989M699 818H989M699 784H989M776 760V873M862 760V873M947 760V873" stroke="#fff" stroke-width="2" fill="none"/><path d="M776 873v8M862 873v8M947 873v8" stroke="#333" stroke-width="2" fill="none"/></g>
<text class="st" text-anchor="middle" x="843.7" y="746.0">27</text>
<text class="ax" text-anchor="middle" x="775.5" y="906">-2</text><text class="ax" text-anchor="middle" x="861.5" y="906">0</text><text class="ax" text-anchor="middle" x="946.5" y="906">2</text>
<g class="pf"><circle cx="865.9" cy="826.8" r="5.15"/><circle cx="862.9" cy="832.9" r="5.15"/><circle cx="893.8" cy="832.6" r="5.15"/><circle cx="887.9" cy="842.9" r="5.15"/><circle cx="953.1" cy="844.8" r="5.15"/></g><g class="ps"><circle cx="865.9" cy="826.8" r="4.45"/><circle cx="862.9" cy="832.9" r="4.45"/><circle cx="893.8" cy="832.6" r="4.45"/><circle cx="887.9" cy="842.9" r="4.45"/><circle cx="953.1" cy="844.8" r="4.45"/></g><path class="ln" stroke-width="5.31" d="M863.5 831.8L953.1 845.9"/>
<g class="g"><rect x="1004" y="713" width="291" height="47" fill="#d9d9d9"/><rect x="1004" y="760" width="291" height="113" fill="#ebebeb"/><path d="M1004 867.5H1295M1004 834.5H1295M1004 801.5H1295M1004 768.5H1295M1039.5 760V873M1124.5 760V873M1209.5 760V873" stroke="#fff" stroke-width="1" fill="none"/><path d="M1004 851H1295M1004 818H1295M1004 784H1295M1081 760V873M1167 760V873M1252 760V873" stroke="#fff" stroke-width="2" fill="none"/><path d="M1081 873v8M1167 873v8M1252 873v8" stroke="#333" stroke-width="2" fill="none"/></g>
<text class="st" text-anchor="middle" x="1149.2" y="746.0">28</text>
<text class="ax" text-anchor="middle" x="1080.5" y="906">-2</text><text class="ax" text-anchor="middle" x="1166.5" y="906">0</text><text class="ax" text-anchor="middle" x="1251.5" y="906">2</text>
<g class="pf"><circle cx="1152.9" cy="766.8" r="5.15"/><circle cx="1155.7" cy="805.9" r="5.15"/><circle cx="1195.9" cy="811.8" r="5.15"/><circle cx="1182.9" cy="828.9" r="5.15"/><circle cx="1159.9" cy="844.8" r="5.15"/></g><g class="ps"><circle cx="1152.9" cy="766.8" r="4.45"/><circle cx="1155.7" cy="805.9" r="4.45"/><circle cx="1195.9" cy="811.8" r="4.45"/><circle cx="1182.9" cy="828.9" r="4.45"/><circle cx="1159.9" cy="844.8" r="4.45"/></g><path class="ln" stroke-width="5.79" d="M1152.8 804.2L1197.0 825.8"/>
<g class="g"><rect x="1309" y="713" width="291" height="47" fill="#d9d9d9"/><rect x="1309" y="760" width="291" height="113" fill="#ebebeb"/><path d="M1309 867.5H1600M1309 834.5H1600M1309 801.5H1600M1309 768.5H1600M1344.5 760V873M1429.5 760V873M1515.5 760V873" stroke="#fff" stroke-width="1" fill="none"/><path d="M1309 851H1600M1309 818H1600M1309 784H1600M1387 760V873M1472 760V873M1557 760V873" stroke="#fff" stroke-width="2" fill="none"/><path d="M1387 873v8M1472 873v8M1557 873v8" stroke="#333" stroke-width="2" fill="none"/></g>
<text class="st" text-anchor="middle" x="1454.2" y="746.0">29</text>
<text class="ax" text-anchor="middle" x="1386.5" y="906">-2</text><text class="ax" text-anchor="middle" x="1471.5" y="906">0</text><text class="ax" text-anchor="middle" x="1556.5" y="906">2</text>
<g class="pf"><circle cx="1402.9" cy="829.0" r="5.15"/><circle cx="1423.8" cy="816.7" r="5.15"/><circle cx="1459.9" cy="820.9" r="5.15"/><circle cx="1467.0" cy="804.8" r="5.15"/><circle cx="1519.0" cy="820.9" r="5.15"/></g><g class="ps"><circle cx="1402.9" cy="829.0" r="4.45"/><circle cx="1423.8" cy="816.7" r="4.45"/><circle cx="1459.9" cy="820.9" r="4.45"/><circle cx="1467.0" cy="804.8" r="4.45"/><circle cx="1519.0" cy="820.9" r="4.45"/></g><path class="ln" stroke-width="5.13" d="M1403.2 822.6L1519.0 815.1"/>
<g class="g"><rect x="1614" y="713" width="291" height="47" fill="#d9d9d9"/><rect x="1614" y="760" width="291" height="113" fill="#ebebeb"/><path d="M1614 867.5H1905M1614 834.5H1905M1614 801.5H1905M1614 768.5H1905M1649.5 760V873M1734.5 760V873M1820.5 760V873" stroke="#fff" stroke-width="1" fill="none"/><path d="M1614 851H1905M1614 818H1905M1614 784H1905M1692 760V873M1777 760V873M1862 760V873" stroke="#fff" stroke-width="2" fill="none"/><path d="M1692 873v8M1777 873v8M1862 873v8" stroke="#333" stroke-width="2" fill="none"/></g>
<text class="st" text-anchor="middle" x="1759.2" y="746.0">30</text>
<text class="ax" text-anchor="middle" x="1691.5" y="906">-2</text><text class="ax" text-anchor="middle" x="1776.5" y="906">0</text><text class="ax" text-anchor="middle" x="1861.5" y="906">2</text>
<g class="pf"><circle cx="1681.8" cy="785.9" r="5.15"/><circle cx="1734.0" cy="790.9" r="5.15"/><circle cx="1727.9" cy="824.8" r="5.15"/><circle cx="1771.0" cy="816.7" r="5.15"/><circle cx="1787.9" cy="827.8" r="5.15"/></g><g class="ps"><circle cx="1681.8" cy="785.9" r="4.45"/><circle cx="1734.0" cy="790.9" r="4.45"/><circle cx="1727.9" cy="824.8" r="4.45"/><circle cx="1771.0" cy="816.7" r="4.45"/><circle cx="1787.9" cy="827.8" r="4.45"/></g><path class="ln" stroke-width="5.62" d="M1682.4 789.8L1787.8 826.5"/>
<text class="ti" x="997" y="940">covariate</text>
<text class="ti" transform="translate(37,467) rotate(-90)">response variable</text>
</svg>
</body></html>
